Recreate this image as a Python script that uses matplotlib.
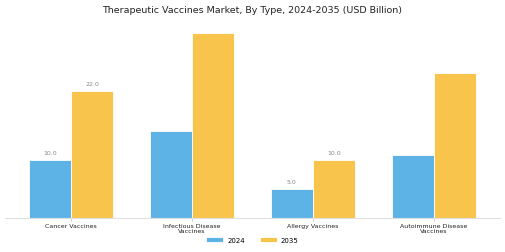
import matplotlib
matplotlib.use("Agg")
import matplotlib.pyplot as plt
import numpy as np

categories = ["Cancer Vaccines", "Infectious Disease\nVaccines", "Allergy Vaccines", "Autoimmune Disease\nVaccines"]
years = ["2024", "2035"]
values_2024 = [10.0, 15.0, 5.0, 10.9]
values_2035 = [22.0, 32.0, 10.0, 25.0]
labeled = [True, False, True, False]

colors = ["#5DB3E6", "#F9C44B"]

fig = plt.figure(figsize=(5.05, 2.53), dpi=100)
ax = fig.add_axes([0.010, 0.134, 0.980, 0.77])

x = np.arange(len(categories))
w = 0.35
b1 = ax.bar(x - w/2, values_2024, w, color=colors[0], edgecolor="white", linewidth=0.6, label=years[0])
b2 = ax.bar(x + w/2, values_2035, w, color=colors[1], edgecolor="white", linewidth=0.6, label=years[1])

for i in range(len(categories)):
    if labeled[i]:
        for bars, vals in ((b1, values_2024), (b2, values_2035)):
            r = bars[i]
            ax.text(r.get_x() + r.get_width()/2, vals[i] + 0.8, f"{vals[i]:.1f}",
                    ha="center", va="bottom", fontsize=4.5, color="#888888")

ax.set_xlim(-0.545, 3.545)
ax.set_ylim(0, 33.6)
ax.set_xticks(x)
ax.set_xticklabels(categories, fontsize=4.5, color="#222222", linespacing=1.2)
ax.tick_params(axis="x", length=2, width=0.5, color="#bbbbbb", pad=1.2)
ax.set_yticks([])
for s in ["top", "right", "left"]:
    ax.spines[s].set_visible(False)
ax.spines["bottom"].set_color("#e0e0e0")
ax.spines["bottom"].set_linewidth(0.8)

fig.suptitle("Therapeutic Vaccines Market, By Type, 2024-2035 (USD Billion)", fontsize=6.8, y=0.975, color="#222222")
fig.legend(loc="lower center", bbox_to_anchor=(0.5, 0.01), ncol=2, fontsize=5, frameon=False,
           handlelength=2.4, handleheight=0.7, handletextpad=0.6, columnspacing=2.2)

fig.savefig("out.png", dpi=100)
